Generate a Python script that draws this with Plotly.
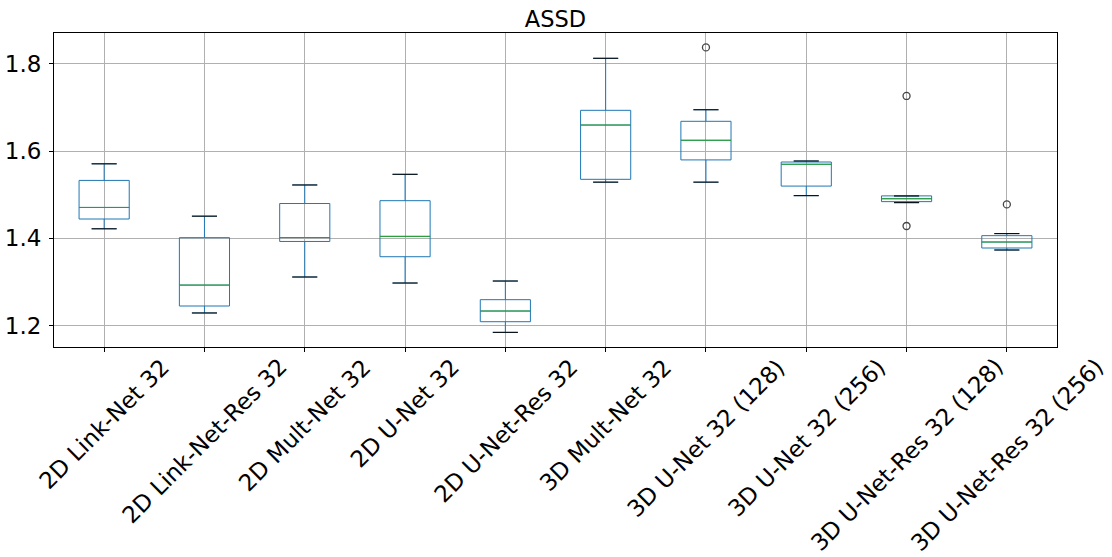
import plotly.graph_objects as go

categories = ["2D Link-Net 32", "2D Link-Net-Res 32", "2D Mult-Net 32", "2D U-Net 32",
              "2D U-Net-Res 32", "3D Mult-Net 32", "3D U-Net 32 (128)", "3D U-Net 32 (256)",
              "3D U-Net-Res 32 (128)", "3D U-Net-Res 32 (256)"]
lower_whisker = [1.422, 1.229, 1.3115, 1.2977, 1.1846, 1.529, 1.529, 1.498, 1.482, 1.3734]
q1_values = [1.4445, 1.245, 1.393, 1.358, 1.209, 1.5355, 1.580, 1.520, 1.4843, 1.378]
median_values = [1.471, 1.293, 1.402, 1.4047, 1.2335, 1.660, 1.625, 1.570, 1.491, 1.3917]
q3_values = [1.533, 1.4017, 1.480, 1.4865, 1.2595, 1.6937, 1.6685, 1.5752, 1.4975, 1.4063]
upper_whisker = [1.571, 1.451, 1.5225, 1.547, 1.3023, 1.813, 1.695, 1.5775, 1.4973, 1.411]
outlier_categories = ["3D U-Net 32 (128)", "3D U-Net-Res 32 (128)", "3D U-Net-Res 32 (128)",
                      "3D U-Net-Res 32 (256)"]
outlier_values = [1.838, 1.7266, 1.4284, 1.478]

positions = list(range(1, len(categories) + 1))
pos_of = {c: p for c, p in zip(categories, positions)}
BOX_W = 0.5
CAP_W = 0.25

fig = go.Figure()
fig.add_trace(go.Box(
    x=positions, q1=q1_values, median=median_values, q3=q3_values,
    lowerfence=lower_whisker, upperfence=upper_whisker,
    width=BOX_W, whiskerwidth=CAP_W / BOX_W,
    line=dict(color="#1f77b4", width=1), fillcolor="rgba(0,0,0,0)",
    boxpoints=False, showlegend=False, hoverinfo="skip"))

# median lines (green)
mx, my = [], []
for p, m in zip(positions, median_values):
    mx += [p - BOX_W / 2, p + BOX_W / 2, None]
    my += [m, m, None]
fig.add_trace(go.Scatter(x=mx, y=my, mode="lines", line=dict(color="#2ca02c", width=1),
                         showlegend=False, hoverinfo="skip"))

# whisker caps (black)
cx, cy = [], []
for p, lo, hi in zip(positions, lower_whisker, upper_whisker):
    cx += [p - CAP_W / 2, p + CAP_W / 2, None, p - CAP_W / 2, p + CAP_W / 2, None]
    cy += [lo, lo, None, hi, hi, None]
fig.add_trace(go.Scatter(x=cx, y=cy, mode="lines", line=dict(color="black", width=1),
                         showlegend=False, hoverinfo="skip"))

# outliers
fig.add_trace(go.Scatter(x=[pos_of[c] for c in outlier_categories], y=outlier_values,
                         mode="markers",
                         marker=dict(symbol="circle-open", size=7, color="#444444",
                                     line=dict(width=1.3, color="#444444")),
                         showlegend=False, hoverinfo="skip"))

font_family = "DejaVu Sans"
for p, c in zip(positions, categories):
    fig.add_annotation(x=p, y=0, xref="x", yref="paper", text=c, showarrow=False,
                       textangle=-45, xanchor="center", yanchor="top", yshift=-4,
                       font=dict(family=font_family, size=23, color="black"))

fig.update_layout(
    width=1112, height=557,
    margin=dict(l=54, r=55, t=33, b=210, autoexpand=False),
    paper_bgcolor="white", plot_bgcolor="white",
    font=dict(family=font_family, size=23, color="black"),
    title=dict(text="ASSD", x=(54 + 1057) / 2 / 1112, xanchor="center",
               y=1 - 19 / 557, yanchor="middle", yref="container",
               font=dict(family=font_family, size=22.5, color="black")),
    showlegend=False,
)
fig.update_xaxes(range=[0.5, 10.5], tickvals=positions, showticklabels=False,
                 showgrid=True, gridcolor="#b0b0b0", gridwidth=1, automargin=False,
                 ticks="outside", ticklen=4, tickcolor="black",
                 showline=True, linecolor="black", linewidth=1, mirror=True, zeroline=False)
fig.update_yaxes(range=[1.151, 1.871], tickvals=[1.2, 1.4, 1.6, 1.8],
                 ticktext=["1.2", "1.4", "1.6", "1.8"], automargin=False,
                 showgrid=True, gridcolor="#b0b0b0", gridwidth=1,
                 ticks="outside", ticklen=4, tickcolor="black", ticklabelstandoff=3,
                 showline=True, linecolor="black", linewidth=1, mirror=True, zeroline=False,
                 tickfont=dict(family=font_family, size=23, color="black"))

fig.write_html("out.html", config={"displayModeBar": False},
               post_script="document.body.style.margin='0';")
